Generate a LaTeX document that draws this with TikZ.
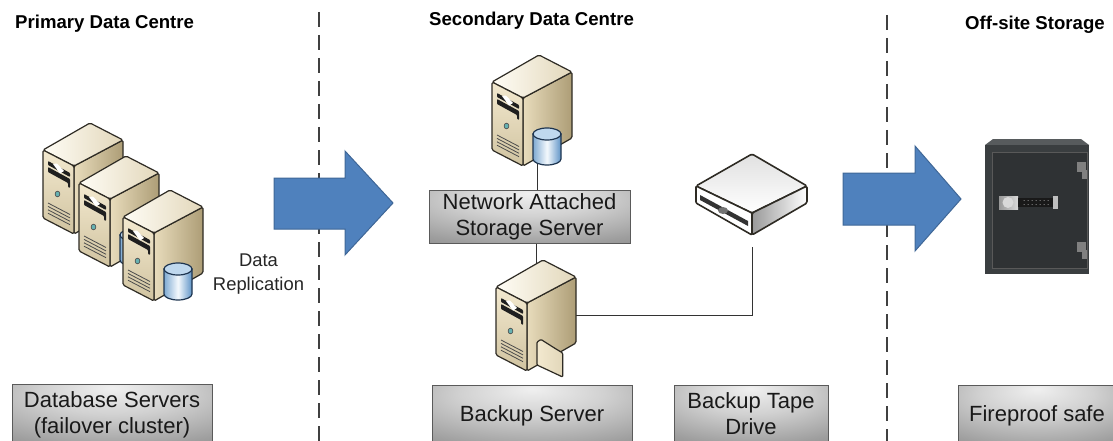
\documentclass[tikz,border=0pt]{standalone}
\usepackage{fontspec}
\setmainfont{Liberation Sans}
\definecolor{srvedge}{HTML}{2E2B24}
\definecolor{frontA}{HTML}{F3E9CF}
\definecolor{frontB}{HTML}{D0C3A0}
\definecolor{sideA}{HTML}{E8DCBC}
\definecolor{sideB}{HTML}{AD9D76}
\definecolor{topA}{HTML}{FFFDF6}
\definecolor{topB}{HTML}{E2D7BA}
\definecolor{cylL}{HTML}{7FAAD2}
\definecolor{cylM}{HTML}{F4F9FD}
\definecolor{cylR}{HTML}{5E93C6}
\definecolor{cylT}{HTML}{BFD8EE}
\definecolor{cylE}{HTML}{1E3550}
\definecolor{arrowblue}{HTML}{4F81BD}
\definecolor{arrowedge}{HTML}{3F6797}
\definecolor{boxedge}{HTML}{5A5A5A}
\definecolor{safeA}{HTML}{3A3E40}
\definecolor{safeB}{HTML}{2F3234}
\pgfdeclareradialshading{boxshade}{\pgfpoint{0bp}{22bp}}{%
  color(0bp)=(black!6); color(18bp)=(black!18); color(40bp)=(black!38); color(65bp)=(black!55); color(100bp)=(black!62)}
\tikzset{
  x=1pt,y=-1pt,
  zonetitle/.style={font=\bfseries\fontsize{18.6}{22}\selectfont,inner sep=0pt,text=black},
  zoneline/.style={draw=black!75,line width=2pt,dash pattern=on 15pt off 8pt},
  labelbox/.style={draw=boxedge,line width=1pt,shade,shading=boxshade,align=center,
    font=\fontsize{22}{26}\selectfont,text=black!90,inner sep=0pt},
  bigarrow/.style={fill=arrowblue,draw=arrowedge,line width=1pt,line join=miter},
  wire/.style={draw=black!80,line width=.9pt},
  srvline/.style={draw=srvedge,line width=1.2pt,line join=round,rounded corners=1.5pt},
}
% server icon, origin at its left top corner
\newcommand{\servericon}[2]{%
\begin{scope}[shift={(#1,#2)}]
  \shade[srvline,left color=sideA,right color=sideB] (31,16) -- (80,-10) -- (80,56) -- (31,84) -- cycle;
  \shade[srvline,left color=topA,right color=topB] (0,0) -- (47,-27) -- (80,-10) -- (31,16) -- cycle;
  \shade[srvline,top color=frontA,bottom color=frontB] (0,0) -- (31,16) -- (31,84) -- (0,68) -- cycle;
  \fill[black!88,rounded corners=.8pt] (5,11) -- (27,23) -- (27,27) -- (5,15) -- cycle;
  \fill[black!88,rounded corners=.8pt] (5,17) -- (27,29) -- (27,38) -- (25,37) -- (25,33) -- (5,22) -- cycle;
  \fill[white] (10,14) -- (14,13.5) -- (21,21) -- (17,23.5) -- cycle;
  \fill[teal!60!white,draw=black!70,line width=.6pt] (14.5,44) ellipse (2.4 and 2.8);
  \foreach \k in {0,1,2,3}
    \draw[black!70,line width=.8pt] (5,{53+\k*3.4}) -- (27,{64.5+\k*3.4});
\end{scope}}
\newcommand{\cylindericon}[2]{%
\begin{scope}[shift={(#1,#2)}]
  \shade[draw=cylE,line width=1.2pt,left color=cylL,right color=cylR,middle color=cylM]
    (41,52) -- (41,77) arc[start angle=180,end angle=0,x radius=14,y radius=6] -- (69,52) -- cycle;
  \fill[draw=cylE,line width=1.2pt,fill=cylT] (55,52) ellipse (14 and 6);
\end{scope}}
\begin{document}
\begin{tikzpicture}
\useasboundingbox (0,0) rectangle (1113,441);
\clip (0,0) rectangle (1113,441);
\fill[white] (0,0) rectangle (1113,441);

% zone separators
\coordinate (sepAtop) at (319,12); \coordinate (sepAbot) at (319,441);
\coordinate (sepBtop) at (887,15); \coordinate (sepBbot) at (887,441);
\draw[zoneline] (sepAtop) -- (sepAbot);
\draw[zoneline] (sepBtop) -- (sepBbot);

% titles
\node[zonetitle,anchor=west] (t1) at (15,24) {Primary Data Centre};
\node[zonetitle,anchor=west] (t2) at (429,21) {Secondary Data Centre};
\node[zonetitle,anchor=west] (t3) at (965,25) {Off-site Storage};

% connectors first, icons cover their ends
\coordinate (nascyl) at (537,160);
\coordinate (bkptop) at (536,270);
\coordinate (bkpside) at (570,315);
\coordinate (drivebot) at (752,247);
\node[labelbox,minimum width=201pt,minimum height=53pt] (nasbox) at (529.5,216.5) {Network Attached\\Storage Server};
\draw[wire] (nascyl) -- (nascyl |- nasbox.north);
\draw[wire] (bkptop |- nasbox.south) -- (bkptop);
\draw[wire] (bkpside) -- (drivebot |- bkpside) -- (drivebot);

% database servers
\servericon{43}{150}
\servericon{79}{183}
\cylindericon{79}{183}
\servericon{123}{217}
\cylindericon{123}{217}

% NAS server
\servericon{492}{82}
\cylindericon{492}{82}

% backup server with folder
\servericon{496}{287}
\begin{scope}[shift={(496,287)}]
  \shade[draw=srvedge,line width=1.2pt,left color=frontA,right color=topB,line join=round,rounded corners=1pt]
    (41,55) -- (45,52.5) -- (60,62) -- (66.7,66) -- (66.7,90) -- (41,78) -- cycle;
\end{scope}

% tape drive
\shade[srvline,line width=1.6pt,top color=black!12,bottom color=white] (752,154) -- (807,186) -- (752,213) -- (696,186) -- cycle;
\shade[srvline,line width=1.6pt,left color=black!40,right color=white] (752,213) -- (807,186) -- (807,203) -- (752,235) -- cycle;
\fill[white,draw=srvedge,line width=1.6pt,line join=round,rounded corners=1pt] (696,186) -- (752,213) -- (752,235) -- (696,203) -- cycle;
\fill[black!80] (700,195) -- (748,221) -- (748,226) -- (700,200) -- cycle;
\fill[black!55] (723,210.5) ellipse (5 and 3.5);

% safe
\fill[safeA!85!white] (985,145) -- (993,139) -- (1081,139) -- (1089,145) -- cycle;
\fill[safeA] (985,145) rectangle (1089,274);
\draw[black!65,line width=.7pt,fill=safeB] (992,152) rectangle (1087,268);
\fill[black!50] (1077,162) rectangle (1086,172);
\fill[black!50] (1082,170) rectangle (1087,179);
\fill[black!50] (1077,242) rectangle (1086,252);
\fill[black!50] (1082,250) rectangle (1087,259);
\shade[left color=black!40,right color=black!15] (999,196) rectangle (1018,209);
\fill[black!90] (1018,198) rectangle (1053,207);
\fill[black!25] (1053,196) rectangle (1058,209);
\fill[black!15] (1008,202.5) circle (5.5);
\foreach \i in {0,...,6} \foreach \j in {0,1}
  \fill[white!70!black] ({1024+\i*4},{200.5+\j*4}) circle (.5);

% arrows
\draw[bigarrow] (274,178) -- (345,178) -- (345,151) -- (393,203) -- (345,255) -- (345,229) -- (274,229) -- cycle;
\draw[bigarrow] (843,173) -- (915,173) -- (915,146) -- (961,199) -- (915,251) -- (915,225) -- (843,225) -- cycle;

% label
\node[align=center,font=\fontsize{18.4}{24}\selectfont,text=black!85,inner sep=0pt] (lab) at (258.5,274) {Data\\Replication};

% bottom boxes
\node[labelbox,minimum width=200pt,minimum height=61pt] (dbbox) at (112,414.5) {Database Servers\\(failover cluster)};
\node[labelbox,minimum width=200pt,minimum height=61pt] (bkpbox) at (532,415.5) {Backup Server};
\node[labelbox,minimum width=154pt,minimum height=58pt] (tapebox) at (751,414) {Backup Tape\\Drive};
\node[labelbox,minimum width=158pt,minimum height=61pt] (safebox) at (1037,415.5) {Fireproof safe};
\end{tikzpicture}
\end{document}
